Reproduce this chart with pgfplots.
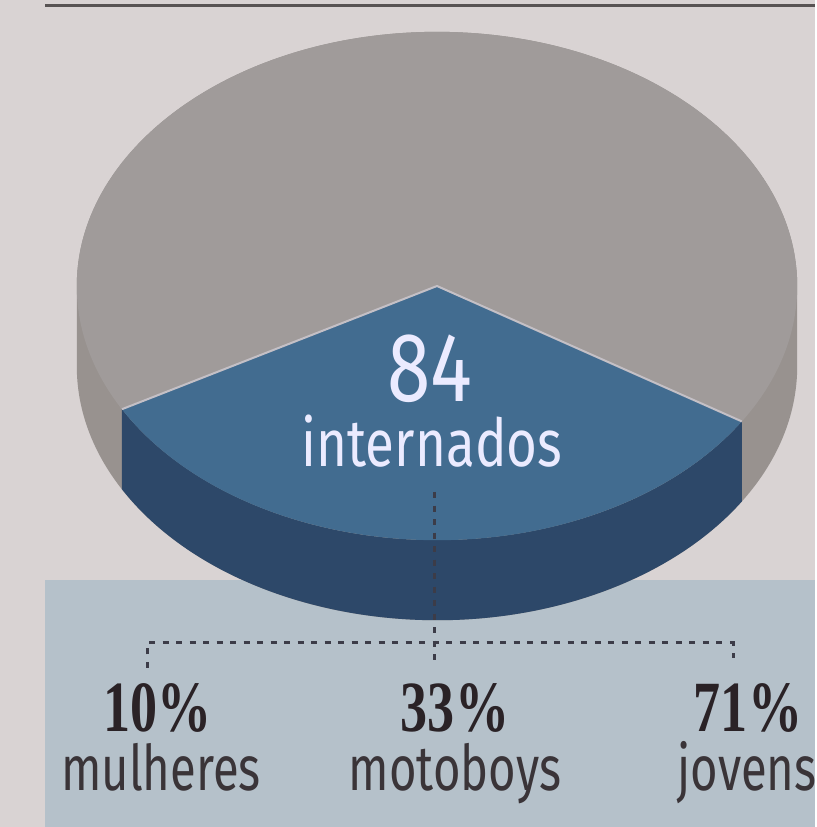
\documentclass[border=0pt]{standalone}
\usepackage{fontspec}
\setmainfont{Fira Sans}
\newfontfamily\lblfont{Fira Sans}[FakeStretch=0.75]
\newfontfamily\numfont{Liberation Serif}[FakeStretch=0.75]
\newfontfamily\bigfont{Fira Sans}[FakeStretch=0.8]
\usepackage{pgfplots}
\pgfplotsset{compat=1.18}
\definecolor{bg}{HTML}{D9D3D3}
\definecolor{boxblue}{HTML}{B5C1CA}
\definecolor{graytop}{HTML}{A09B9A}
\definecolor{grayside}{HTML}{98928F}
\definecolor{bluetop}{HTML}{426C90}
\definecolor{blueside}{HTML}{2D4869}
\definecolor{edgecol}{HTML}{C4C0C6}
\definecolor{rulecol}{HTML}{585353}
\definecolor{dotcol}{HTML}{3C3C48}
\definecolor{numcol}{HTML}{2A2226}
\definecolor{wordcol}{HTML}{3A3438}
\begin{document}
\begin{tikzpicture}
% share of the highlighted slice (percent) and its start angle
\pgfmathsetmacro{\share}{33}
\pgfmathsetmacro{\aone}{209}
\pgfmathsetmacro{\atwo}{\aone+3.6*\share}
\begin{axis}[x=0.01cm,y=0.01cm,xmin=0,xmax=815,ymin=0,ymax=827,
  hide axis,clip=false]
% background, rule and lower box
\fill[bg] (axis cs:0,0) rectangle (axis cs:815,827);
\addplot[rulecol,line width=0.03cm] coordinates {(45,821) (815,821)};
\fill[boxblue] (axis cs:45,0) rectangle (axis cs:815,247);
% 3D pie
\fill[grayside,shift={(axis cs:437,541)}] (180:3.6cm and 2.54cm) -- ++(0cm,-0.8cm)
  arc[start angle=180,end angle=360,x radius=3.6cm,y radius=2.54cm] -- ++(0cm,0.8cm)
  arc[start angle=0,end angle=180,x radius=3.6cm,y radius=2.54cm] -- cycle;
\fill[graytop,shift={(axis cs:437,541)}] (0cm,0cm) ellipse [x radius=3.6cm,y radius=2.54cm];
\fill[blueside,shift={(axis cs:437,541)}] (\aone:3.6cm and 2.54cm) -- ++(0cm,-0.8cm)
  arc[start angle=\aone,end angle=\atwo,x radius=3.6cm,y radius=2.54cm] -- ++(0cm,0.8cm)
  arc[start angle=\atwo,end angle=\aone,x radius=3.6cm,y radius=2.54cm] -- cycle;
\fill[bluetop,shift={(axis cs:437,541)}] (0cm,0cm) -- (\aone:3.6cm and 2.54cm)
  arc[start angle=\aone,end angle=\atwo,x radius=3.6cm,y radius=2.54cm] -- cycle;
\draw[edgecol,line width=0.02cm,line join=round,shift={(axis cs:437,541)}]
  (\aone:3.6cm and 2.54cm) -- (0cm,0cm) -- (\atwo:3.6cm and 2.54cm);
% dotted bracket
\addplot[dotcol,line width=0.03cm,dash pattern=on 0.06cm off 0.075cm] coordinates {(147,159) (147,184) (733,184) (733,169)};
\addplot[dotcol,line width=0.03cm,dash pattern=on 0.06cm off 0.075cm] coordinates {(434,335) (434,167)};
% texts
\node[anchor=base,inner sep=0pt,text depth=0pt,text=white!92!blue,font=\bigfont\fontsize{27.9}{30}\selectfont] at (axis cs:430,425) {84};
\node[anchor=base,inner sep=0pt,text=white!92!blue,font=\bigfont\fontsize{18.8}{20}\selectfont] at (axis cs:432,360) {internados};
\node[anchor=base,inner sep=0pt,text=numcol,font=\numfont\bfseries\fontsize{20.5}{22}\selectfont] at (axis cs:158,95) {10\%};
\node[anchor=base,inner sep=0pt,text=numcol,font=\numfont\bfseries\fontsize{20.5}{22}\selectfont] at (axis cs:455,95) {33\%};
\node[anchor=base,inner sep=0pt,text=numcol,font=\numfont\bfseries\fontsize{20.5}{22}\selectfont] at (axis cs:748,95) {71\%};
\node[anchor=base,inner sep=0pt,text=wordcol,font=\lblfont\fontsize{17.9}{20}\selectfont] at (axis cs:161,37) {mulheres};
\node[anchor=base,inner sep=0pt,text=wordcol,font=\lblfont\fontsize{17.9}{20}\selectfont] at (axis cs:455,37) {motoboys};
\node[anchor=base,inner sep=0pt,text=wordcol,font=\lblfont\fontsize{17.9}{20}\selectfont] at (axis cs:747,37) {jovens};
\end{axis}
\end{tikzpicture}
\end{document}
